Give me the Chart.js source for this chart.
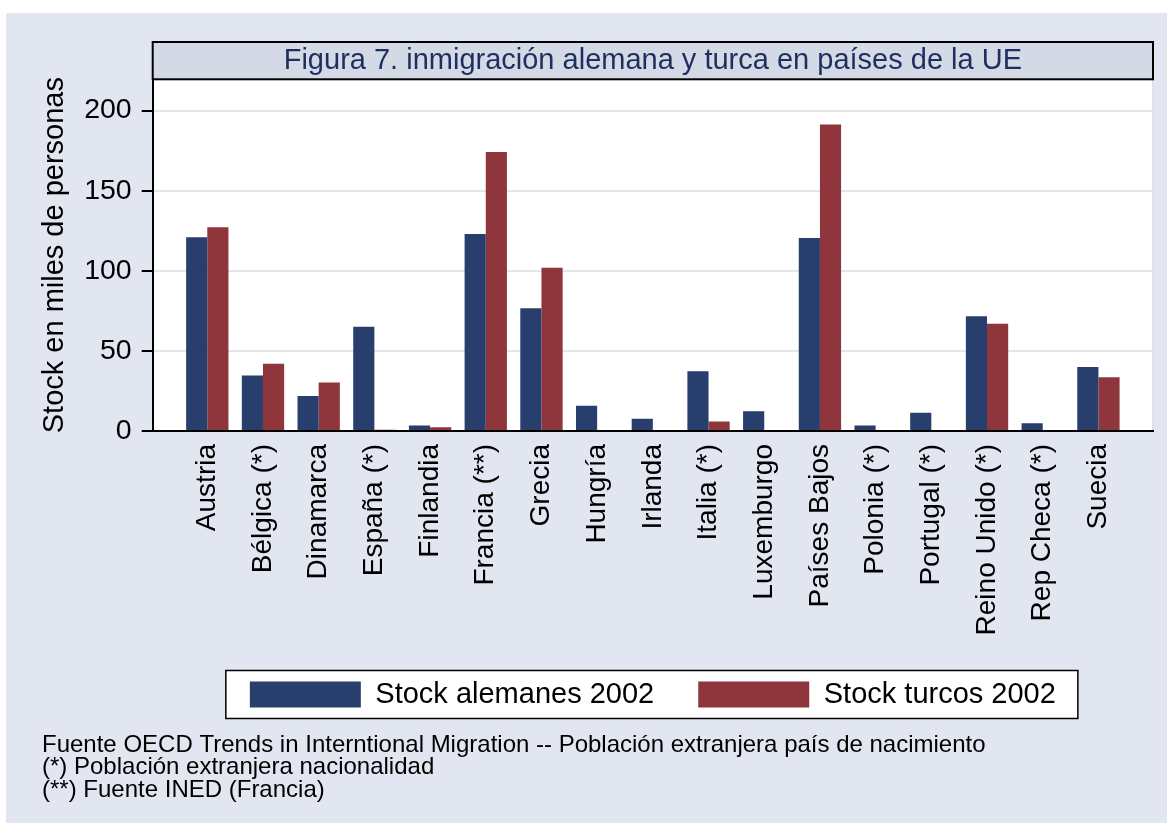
<!DOCTYPE html>
<html>
<head>
<meta charset="utf-8">
<script src="https://cdn.jsdelivr.net/npm/chart.js@4.4.1/dist/chart.umd.min.js"></script>
<style>
  html, body { margin: 0; padding: 0; background: #fff; }
</style>
</head>
<body>
<canvas id="grafico" width="1173" height="828"></canvas>
<script>
// datos (miles de personas)
const paises = ["Austria", "Bélgica (*)", "Dinamarca", "España (*)", "Finlandia", "Francia (**)", "Grecia",
  "Hungría", "Irlanda", "Italia (*)", "Luxemburgo", "Países Bajos", "Polonia (*)", "Portugal (*)",
  "Reino Unido (*)", "Rep Checa (*)", "Suecia"];
const alemanes = [120.9, 34.6, 21.8, 65.1, 3.4, 123.0, 76.6, 15.8, 7.6, 37.3, 12.4, 120.5, 3.4, 11.4, 71.6, 4.9, 40.0];
const turcos = [127.1, 41.9, 30.2, 0.8, 2.4, 174.2, 101.9, 0.7, 0.7, 6.0, 0, 191.3, 0, 0, 67.0, 0, 33.5];
const yTicks = [0, 50, 100, 150, 200];
const notas = [
  "Fuente OECD Trends in Interntional Migration -- Población extranjera país de nacimiento",
  "(*) Población extranjera nacionalidad",
  "(**) Fuente INED (Francia)"
];

const FUENTE = "'Liberation Sans', Arial, sans-serif";
Chart.defaults.font.family = FUENTE;
Chart.defaults.color = "#000";

// fondo estilo Stata: panel, región blanca, barra del título, marco de la leyenda y notas
const fondoStata = {
  id: "fondoStata",
  beforeDraw(chart) {
    const ctx = chart.ctx;
    const a = chart.chartArea;
    ctx.save();
    ctx.fillStyle = "#fff";
    ctx.fillRect(0, 0, chart.width, chart.height);
    ctx.fillStyle = "#E2E6F0";
    ctx.fillRect(6, 13, 1161, 810);
    ctx.fillStyle = "#fff";
    ctx.fillRect(a.left, a.top, a.right - a.left, a.bottom - a.top);
    ctx.strokeStyle = "#DCE1EC";
    ctx.lineWidth = 2;
    ctx.beginPath();
    ctx.moveTo(a.right, a.top);
    ctx.lineTo(a.right, a.bottom);
    ctx.stroke();

    const t = chart.titleBlock;
    ctx.fillStyle = "#D3D9E5";
    ctx.fillRect(a.left, t.top, a.right - a.left, t.bottom - t.top);
    ctx.strokeStyle = "#000";
    ctx.lineWidth = 2;
    ctx.strokeRect(a.left, t.top, a.right - a.left, t.bottom - t.top);

    const hb = chart.legend.legendHitBoxes;
    if (hb && hb.length) {
      const first = hb[0], last = hb[hb.length - 1];
      const x0 = first.left - 24;
      const x1 = last.left + last.width + 22;
      const y0 = first.top + 1.5 - 11;
      const y1 = first.top + 1.5 + 26 + 11;
      ctx.fillStyle = "#fff";
      ctx.fillRect(x0, y0, x1 - x0, y1 - y0);
      ctx.lineWidth = 1.5;
      ctx.strokeRect(x0, y0, x1 - x0, y1 - y0);
    }
    ctx.restore();
  },
  afterDraw(chart) {
    const ctx = chart.ctx;
    ctx.save();
    ctx.font = "24px " + FUENTE;
    ctx.fillStyle = "#000";
    ctx.textBaseline = "middle";
    notas.forEach((n, i) => ctx.fillText(n, 42, 745 + i * 22.5));
    ctx.restore();
  }
};

const ctx = document.getElementById("grafico").getContext("2d");
new Chart(ctx, {
  type: "bar",
  data: {
    datasets: [
      {
        label: "Stock alemanes 2002",
        data: paises.map((p, i) => ({ x: i, y: alemanes[i] })),
        backgroundColor: "#283F6E",
        borderWidth: 0
      },
      {
        label: "Stock turcos 2002",
        data: paises.map((p, i) => ({ x: i, y: turcos[i] })),
        backgroundColor: "#8F353C",
        borderWidth: 0
      }
    ]
  },
  options: {
    responsive: false,
    animation: false,
    categoryPercentage: 0.76,
    barPercentage: 1.0,
    layout: { padding: { top: 42, left: 37.6, right: 20, bottom: 109 } },
    scales: {
      x: {
        type: "linear",
        offset: false,
        min: -0.98,
        max: 16.98,
        afterBuildTicks: s => { s.ticks = paises.map((p, i) => ({ value: i })); },
        afterFit: s => { s.height = 205; },
        grid: { display: false, drawTicks: false },
        border: { color: "#000", width: 2 },
        ticks: {
          autoSkip: false,
          minRotation: 90,
          maxRotation: 90,
          padding: 13,
          color: "#000",
          font: { size: 28 },
          callback: v => paises[v]
        }
      },
      y: {
        min: 0,
        max: 219.5,
        afterBuildTicks: s => { s.ticks = yTicks.map(v => ({ value: v })); },
        afterFit: s => { s.width = 115.1; },
        grid: { color: "#E1E6F0", lineWidth: 2, tickColor: "#000", tickLength: 11 },
        border: { color: "#000", width: 2 },
        ticks: { padding: 10, color: "#000", font: { size: 28.5 } },
        title: {
          display: true,
          text: "Stock en miles de personas",
          color: "#000",
          font: { size: 29, lineHeight: 1.2 },
          padding: 0
        }
      }
    },
    plugins: {
      title: {
        display: true,
        text: "Figura 7. inmigración alemana y turca en países de la UE",
        fullSize: false,
        color: "#1E2F5F",
        font: { size: 29, weight: "normal", lineHeight: 1.2 },
        padding: { top: 1.5, bottom: 1 }
      },
      legend: {
        position: "bottom",
        fullSize: false,
        labels: { boxWidth: 111, boxHeight: 26, padding: 44, color: "#000", font: { size: 29 } }
      },
      tooltip: { enabled: false }
    }
  },
  plugins: [fondoStata]
});
</script>
</body>
</html>
